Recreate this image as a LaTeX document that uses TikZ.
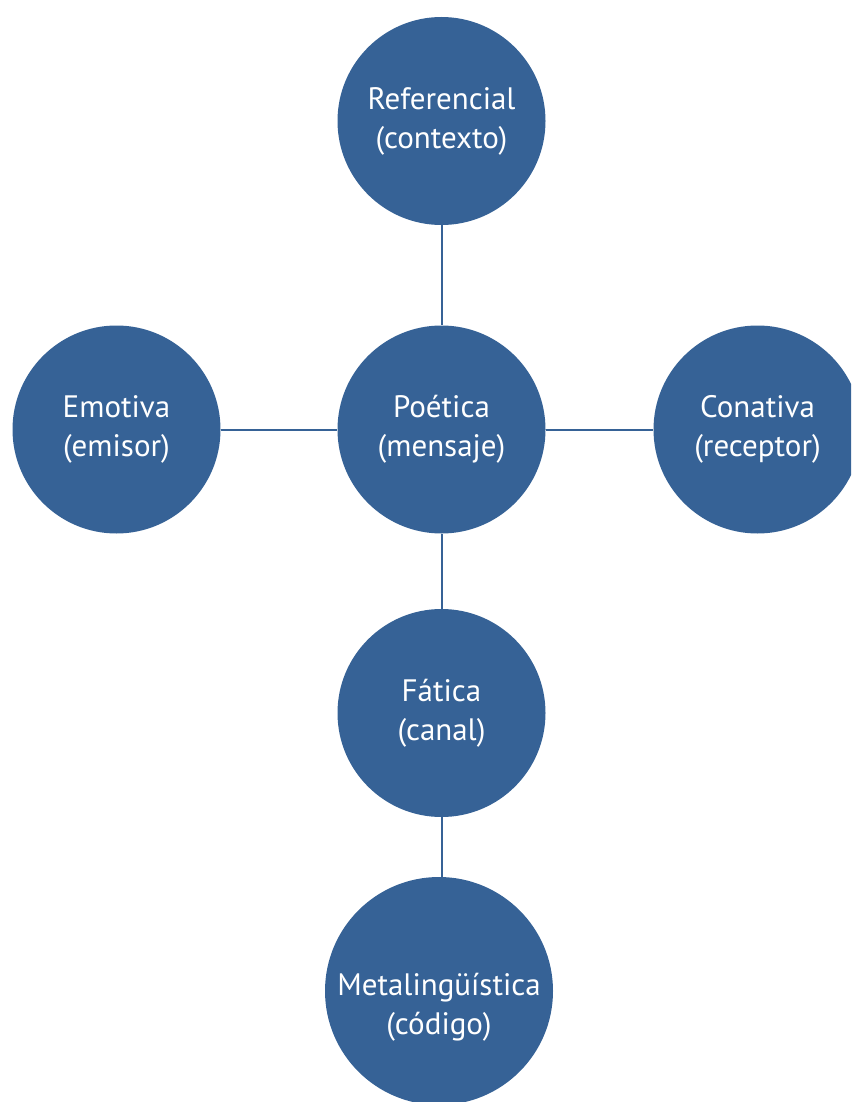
\documentclass[tikz,border=0pt]{standalone}
\usepackage{fontspec}
\setmainfont{PT Sans}
\definecolor{nodeblue}{RGB}{54,98,150}
\begin{document}
\begin{tikzpicture}[x=1pt,y=-1pt,
  fn/.style={circle,fill=nodeblue,draw=none,inner sep=0pt,minimum size=208pt,
    text=white,align=center,font=\fontsize{31}{39}\selectfont},
  link/.style={draw=nodeblue,line width=2pt}]
\useasboundingbox (0,0) rectangle (851,1102);
\clip (0,0) rectangle (851,1102);
\node[fn] (ref) at (441.5,121) {Referencial\\(contexto)};
\node[fn] (poe) at (441.5,429.5) {Poética\\(mensaje)};
\node[fn] (emo) at (116.5,429.5) {Emotiva\\(emisor)};
\node[fn] (con) at (757.5,429.5) {Conativa\\(receptor)};
\node[fn] (fat) at (441.5,713) {Fática\\(canal)};
\node[fn,minimum size=228pt,
  label={[text=white,align=center,font=\fontsize{31}{39}\selectfont,yshift=-16pt]center:Metalingüística\\(código)}]
  (met) at (439,991) {};
\draw[link] (ref) -- (poe);
\draw[link] (emo) -- (poe);
\draw[link] (poe) -- (con);
\draw[link] (poe) -- (fat);
\draw[link] (fat.south) -- (fat.south |- met.north);
\end{tikzpicture}
\end{document}
